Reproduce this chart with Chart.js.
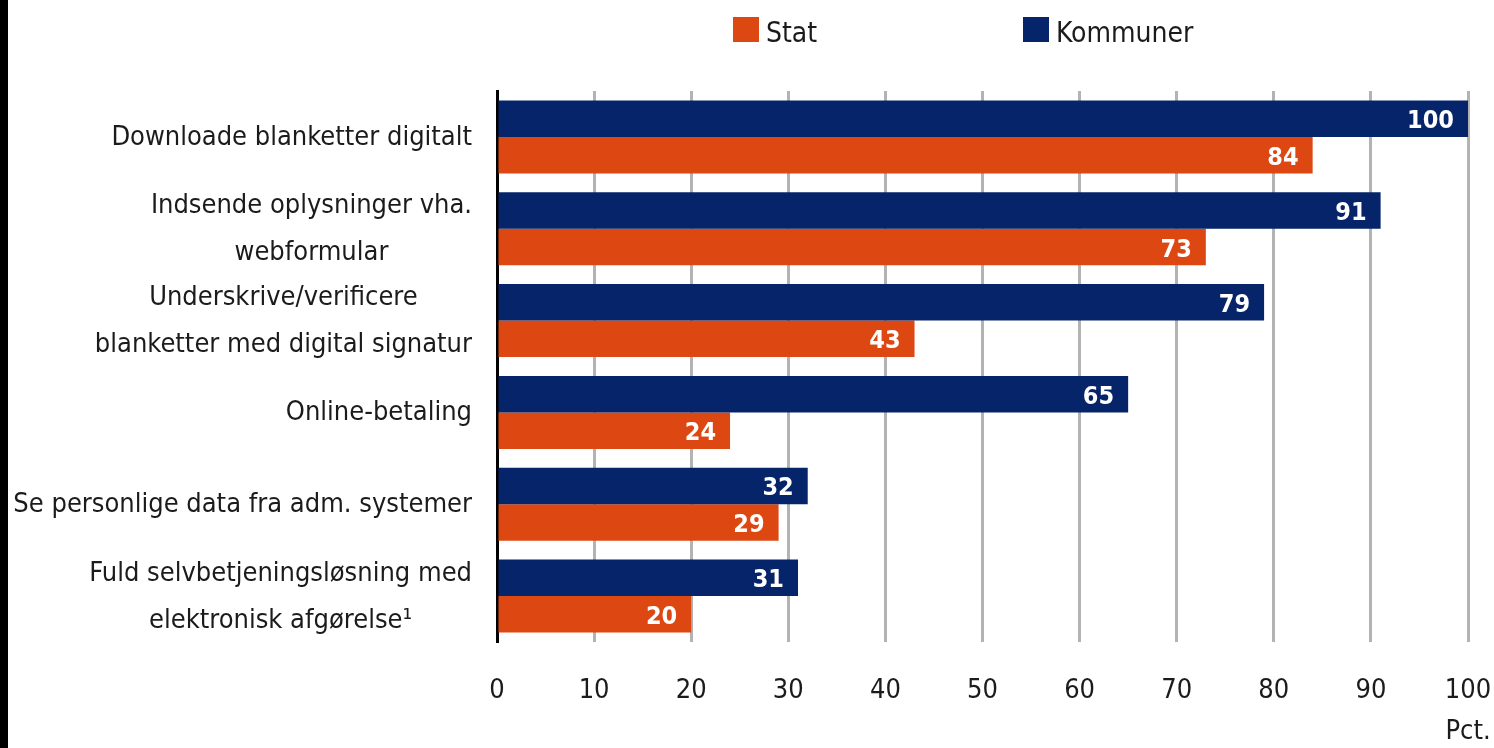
<!DOCTYPE html>
<html><head><meta charset="utf-8">
<script src="https://cdn.jsdelivr.net/npm/chart.js@4.4.1/dist/chart.umd.min.js"></script>
<style>
html,body{margin:0;padding:0;background:#fff;overflow:hidden;}
#wrap{position:relative;width:1494px;height:748px;}
#edge{position:absolute;left:0;top:0;width:8px;height:748px;background:#000;}
canvas{display:block;}
</style></head><body>
<div id="wrap"><canvas id="c" width="1494" height="748"></canvas><div id="edge"></div></div>
<script>
// ---- data ----
const categories = [
  ['Downloade blanketter digitalt'],
  ['Indsende oplysninger vha.', 'webformular'],
  ['Underskrive/verificere', 'blanketter med digital signatur'],
  ['Online-betaling'],
  ['Se personlige data fra adm. systemer'],
  ['Fuld selvbetjeningsløsning med', 'elektronisk afgørelse¹']
];
const seriesNames = ['Kommuner', 'Stat'];
const kommuner = [100, 91, 79, 65, 32, 31];
const stat = [84, 73, 43, 24, 29, 20];
const xTicks = [0, 10, 20, 30, 40, 50, 60, 70, 80, 90, 100];
const xUnit = 'Pct.';
const legendOrder = ['Stat', 'Kommuner'];

// ---- styles ----
const BLUE = '#06246A';
const ORANGE = '#DC4712';
const TEXT = '#1b1b1b';
const FONT = '"DejaVu Sans Condensed", "DejaVu Sans", sans-serif';

const colorOf = { 'Kommuner': BLUE, 'Stat': ORANGE };

const labelPlugin = {
  id: 'customText',
  afterDraw(chart) {
    const ctx = chart.ctx;
    const y = chart.scales.y;
    // category labels: block right-aligned, lines centered inside block
    ctx.save();
    ctx.fillStyle = TEXT;
    ctx.font = '27px ' + FONT;
    ctx.textBaseline = 'alphabetic';
    ctx.textAlign = 'center';
    const rightEdge = y.right - 25;
    const lh = 47;
    categories.forEach((lines, i) => {
      const cy = y.getPixelForValue(i);
      const w = Math.max(...lines.map(l => ctx.measureText(l).width));
      const cx = rightEdge - w / 2;
      const n = lines.length;
      lines.forEach((l, k) => {
        ctx.fillText(l, cx, cy + 8 + (k - (n - 1) / 2) * lh);
      });
    });
    ctx.restore();

    // value labels inside bar ends
    ctx.save();
    ctx.fillStyle = '#ffffff';
    ctx.font = 'bold 25px ' + FONT;
    ctx.textAlign = 'right';
    ctx.textBaseline = 'alphabetic';
    chart.data.datasets.forEach((ds, di) => {
      const meta = chart.getDatasetMeta(di);
      meta.data.forEach((bar, i) => {
        ctx.fillText(String(ds.data[i]), bar.x - 14, bar.y + 9.5);
      });
    });
    ctx.restore();

    // legend
    ctx.save();
    ctx.font = '28px ' + FONT;
    ctx.textAlign = 'left';
    ctx.textBaseline = 'alphabetic';
    const legendX = [733, 1023];
    legendOrder.forEach((name, k) => {
      const x0 = legendX[k];
      ctx.fillStyle = colorOf[name];
      ctx.fillRect(x0, 17, 26, 25);
      ctx.fillStyle = TEXT;
      ctx.fillText(name, x0 + 33, 42);
    });
    ctx.restore();
  }
};

new Chart(document.getElementById('c'), {
  type: 'bar',
  data: {
    labels: categories,
    datasets: [
      { label: seriesNames[0], data: kommuner, backgroundColor: BLUE, borderWidth: 0 },
      { label: seriesNames[1], data: stat, backgroundColor: ORANGE, borderWidth: 0 }
    ]
  },
  options: {
    indexAxis: 'y',
    responsive: false,
    animation: false,
    devicePixelRatio: 1,
    categoryPercentage: 0.795,
    barPercentage: 1.0,
    layout: { padding: { top: 91, right: 0, left: 0, bottom: 0 } },
    plugins: { legend: { display: false }, tooltip: { enabled: false } },
    scales: {
      x: {
        type: 'linear',
        position: 'bottom',
        min: 0, max: 100,
        afterBuildTicks: (s) => { s.ticks = xTicks.map(v => ({ value: v })); },
        afterFit: (s) => { s.height = 106; s.paddingRight = 26; s.paddingLeft = 0; },
        grid: {
          drawTicks: false,
          lineWidth: 3,
          color: (c) => (c.tick && c.tick.value === 0) ? 'rgba(0,0,0,0)' : '#b3b3b3'
        },
        border: { display: false },
        ticks: {
          padding: 28,
          color: TEXT,
          font: { family: FONT, size: 27, lineHeight: 1.52 },
          maxRotation: 0,
          callback: (v) => v === 100 ? [String(v), xUnit] : String(v)
        }
      },
      y: {
        type: 'category',
        afterFit: (s) => { s.width = 497; },
        grid: { display: false },
        border: { display: true, color: '#000', width: 3 },
        ticks: { display: false }
      }
    }
  },
  plugins: [labelPlugin]
});
</script>
</body></html>
